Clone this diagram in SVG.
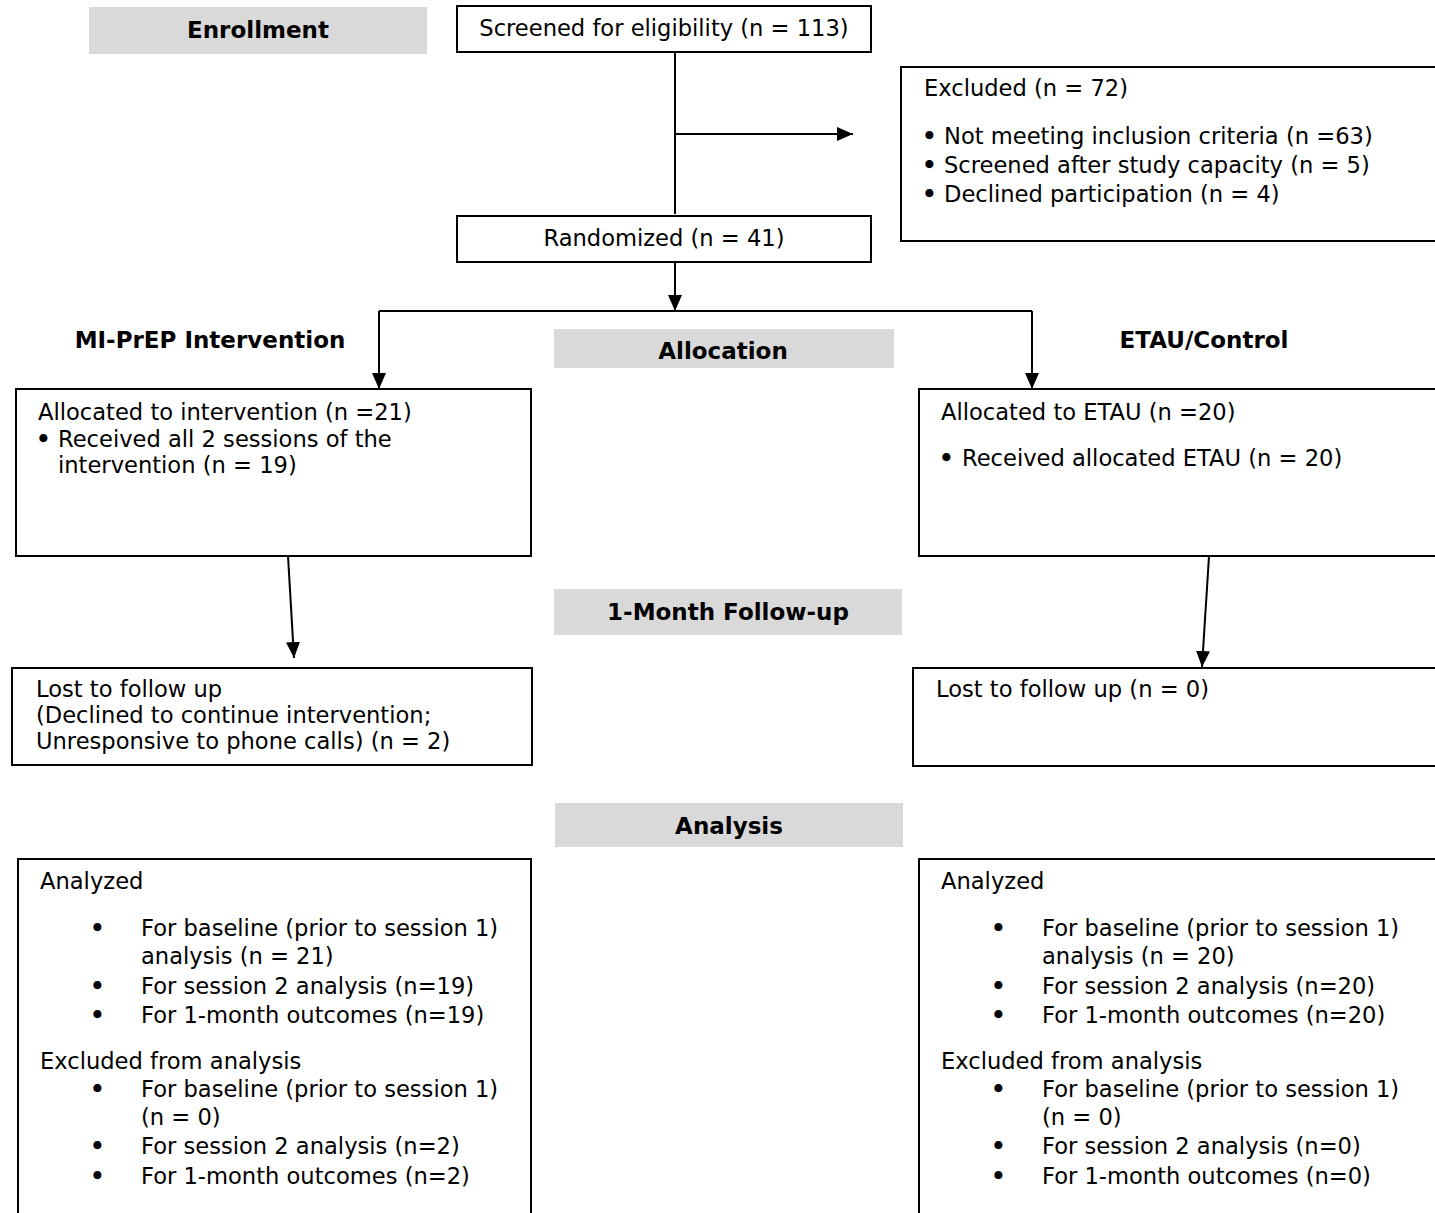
<svg xmlns="http://www.w3.org/2000/svg" width="1435" height="1213" viewBox="0 0 1435 1213">
<style>
.t{font-family:"DejaVu Sans","Liberation Sans",sans-serif;font-size:22.6px;fill:#000}
.u{font-family:"DejaVu Sans","Liberation Sans",sans-serif;font-size:23px;font-weight:bold;fill:#000}
.b{font-family:"DejaVu Sans","Liberation Sans",sans-serif;font-size:23px;font-weight:bold;fill:#000}
.c{text-anchor:middle}
.box{fill:#fff;stroke:#000;stroke-width:2}
.hdr{fill:#d9d9d9;stroke:none}
.ln{fill:none;stroke:#000;stroke-width:2}
</style>
<defs>
<marker id="ah" viewBox="0 0 16 14" refX="16" refY="7" markerWidth="16" markerHeight="14" markerUnits="userSpaceOnUse" orient="auto">
<path d="M0,0 L16,7 L0,14 z" fill="#000"/>
</marker>
</defs>
<rect width="1435" height="1213" fill="#fff"/>

<g id="connectors">
<path class="ln" d="M675,52 V214"/>
<path class="ln" d="M675,134 H853" marker-end="url(#ah)"/>
<path class="ln" d="M675,262 V311" marker-end="url(#ah)"/>
<path class="ln" d="M379,311 H1032"/>
<path class="ln" d="M379,311 V389" marker-end="url(#ah)"/>
<path class="ln" d="M1032,311 V389" marker-end="url(#ah)"/>
<path class="ln" d="M288,556 L294,658" marker-end="url(#ah)"/>
<path class="ln" d="M1209,556 L1202,667" marker-end="url(#ah)"/>
</g>

<g id="enrollment-label">
<rect class="hdr" x="89" y="7" width="338" height="47"/>
<text class="b c" x="258" y="38">Enrollment</text>
</g>

<g id="screened">
<rect class="box" x="457" y="6" width="414" height="46"/>
<text class="t c" x="664" y="36">Screened for eligibility (n = 113)</text>
</g>

<g id="excluded">
<rect class="box" x="901" y="67" width="545" height="174"/>
<text class="t" x="924" y="96">Excluded (n = 72)</text>
<text class="u" x="922" y="144">•</text><text class="t" x="944" y="144">Not meeting inclusion criteria (n =63)</text>
<text class="u" x="922" y="173">•</text><text class="t" x="944" y="173">Screened after study capacity (n = 5)</text>
<text class="u" x="922" y="202">•</text><text class="t" x="944" y="202">Declined participation (n = 4)</text>
</g>

<g id="randomized">
<rect class="box" x="457" y="216" width="414" height="46"/>
<text class="t c" x="664" y="246">Randomized (n = 41)</text>
</g>

<g id="mi-prep-label">
<text class="b c" x="210" y="348">MI-PrEP Intervention</text>
</g>

<g id="allocation-label">
<rect class="hdr" x="554" y="329" width="340" height="39"/>
<text class="b c" x="723" y="359">Allocation</text>
</g>

<g id="etau-label">
<text class="b c" x="1204" y="348">ETAU/Control</text>
</g>

<g id="alloc-intervention">
<rect class="box" x="16" y="389" width="515" height="167"/>
<text class="t" x="38" y="420">Allocated to intervention (n =21)</text>
<text class="u" x="36" y="447">•</text><text class="t" x="58" y="447">Received all 2 sessions of the</text>
<text class="t" x="58" y="473">intervention (n = 19)</text>
</g>

<g id="alloc-etau">
<rect class="box" x="919" y="389" width="527" height="167"/>
<text class="t" x="941" y="420">Allocated to ETAU (n =20)</text>
<text class="u" x="939" y="466">•</text><text class="t" x="962" y="466">Received allocated ETAU (n = 20)</text>
</g>

<g id="followup-label">
<rect class="hdr" x="554" y="589" width="348" height="46"/>
<text class="b c" x="728" y="620">1-Month Follow-up</text>
</g>

<g id="lost-intervention">
<rect class="box" x="12" y="668" width="520" height="97"/>
<text class="t" x="36" y="697">Lost to follow up</text>
<text class="t" x="36" y="723">(Declined to continue intervention;</text>
<text class="t" x="36" y="749">Unresponsive to phone calls) (n = 2)</text>
</g>

<g id="lost-etau">
<rect class="box" x="913" y="668" width="533" height="98"/>
<text class="t" x="936" y="697">Lost to follow up (n = 0)</text>
</g>

<g id="analysis-label">
<rect class="hdr" x="555" y="803" width="348" height="44"/>
<text class="b c" x="729" y="834">Analysis</text>
</g>

<g id="analyzed-intervention">
<rect class="box" x="18" y="859" width="513" height="370"/>
<text class="t" x="40" y="889">Analyzed</text>
<text class="u" x="90" y="936">•</text><text class="t" x="141" y="936">For baseline (prior to session 1)</text>
<text class="t" x="141" y="964">analysis (n = 21)</text>
<text class="u" x="90" y="994">•</text><text class="t" x="141" y="994">For session 2 analysis (n=19)</text>
<text class="u" x="90" y="1023">•</text><text class="t" x="141" y="1023">For 1-month outcomes (n=19)</text>
<text class="t" x="40" y="1069">Excluded from analysis</text>
<text class="u" x="90" y="1097">•</text><text class="t" x="141" y="1097">For baseline (prior to session 1)</text>
<text class="t" x="141" y="1125">(n = 0)</text>
<text class="u" x="90" y="1154">•</text><text class="t" x="141" y="1154">For session 2 analysis (n=2)</text>
<text class="u" x="90" y="1184">•</text><text class="t" x="141" y="1184">For 1-month outcomes (n=2)</text>
</g>

<g id="analyzed-etau">
<rect class="box" x="919" y="859" width="527" height="370"/>
<text class="t" x="941" y="889">Analyzed</text>
<text class="u" x="991" y="936">•</text><text class="t" x="1042" y="936">For baseline (prior to session 1)</text>
<text class="t" x="1042" y="964">analysis (n = 20)</text>
<text class="u" x="991" y="994">•</text><text class="t" x="1042" y="994">For session 2 analysis (n=20)</text>
<text class="u" x="991" y="1023">•</text><text class="t" x="1042" y="1023">For 1-month outcomes (n=20)</text>
<text class="t" x="941" y="1069">Excluded from analysis</text>
<text class="u" x="991" y="1097">•</text><text class="t" x="1042" y="1097">For baseline (prior to session 1)</text>
<text class="t" x="1042" y="1125">(n = 0)</text>
<text class="u" x="991" y="1154">•</text><text class="t" x="1042" y="1154">For session 2 analysis (n=0)</text>
<text class="u" x="991" y="1184">•</text><text class="t" x="1042" y="1184">For 1-month outcomes (n=0)</text>
</g>
</svg>
